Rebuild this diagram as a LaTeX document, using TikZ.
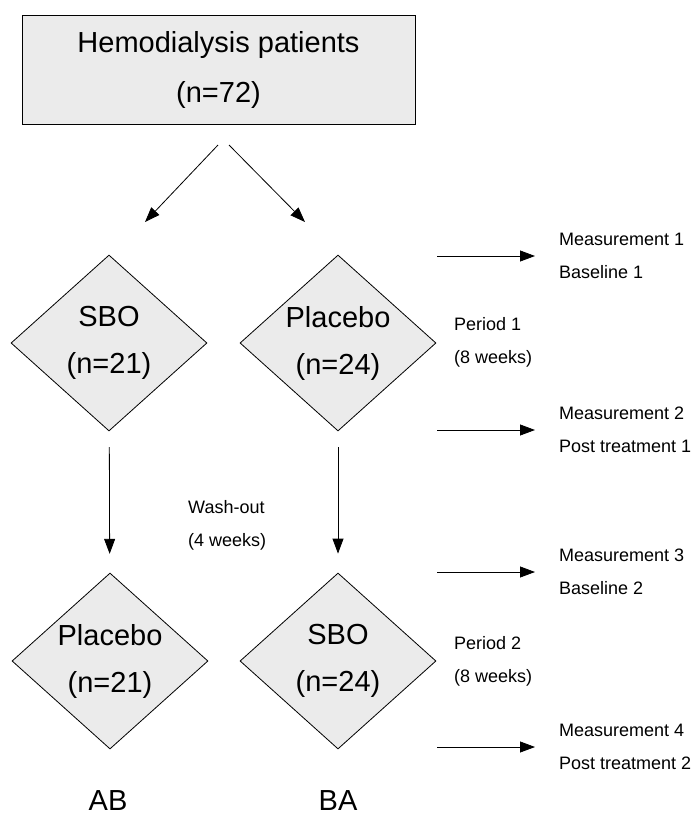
\documentclass[tikz,border=0pt]{standalone}
\usepackage{fontspec}
\setmainfont{Liberation Sans}
\usepackage{tikz}
\usetikzlibrary{shapes.geometric,arrows.meta}
\definecolor{boxgray}{RGB}{235,235,235}

\begin{document}
\begin{tikzpicture}[x=1pt,y=-1pt,
  arm/.style={diamond, draw, fill=boxgray, line width=0.8pt, inner sep=0pt,
    minimum width=196pt, minimum height=176pt, aspect=1.11, align=center,
    font=\fontsize{29}{47}\selectfont},
  sidetext/.style={anchor=west, inner sep=0pt, align=left,
    font=\fontsize{18}{33}\selectfont},
  arr/.style={-{Triangle[length=15pt,width=11pt]}, line width=0.8pt}]

\useasboundingbox (0,0) rectangle (696,817);

\node[draw, fill=boxgray, line width=0.8pt, minimum width=393pt, minimum height=109pt,
  align=center, font=\fontsize{29}{50}\selectfont] (patients) at (218.5,69.5)
  {Hemodialysis patients\\(n=72)};

\node[arm] (sboA) at (109,343) {SBO\\(n=21)};
\node[arm] (plaB) at (338,343) {Placebo\\(n=24)};
\node[arm] (plaA) at (110,661) {Placebo\\(n=21)};
\node[arm] (sboB) at (338,661) {SBO\\(n=24)};

\coordinate (splitL) at (218,145);
\coordinate (splitR) at (229,145);
\coordinate (toL) at (145,222);
\coordinate (toR) at (305,222);
\draw[arr] (splitL) -- (toL);
\draw[arr] (splitR) -- (toR);

\draw[arr, shorten <=16pt, shorten >=19pt] (sboA) -- (plaA);
\draw[arr, shorten <=16pt, shorten >=19pt] (plaB) -- (sboB);

\node[sidetext] (wash) at (188,525) {Wash-out\\(4 weeks)};
\node[sidetext] (period1) at (454,342) {Period 1\\(8 weeks)};
\node[sidetext] (period2) at (454,661) {Period 2\\(8 weeks)};

\node[sidetext] (meas1) at (559,256) {Measurement 1\\Baseline 1};
\node[sidetext] (meas2) at (559,430) {Measurement 2\\Post treatment 1};
\node[sidetext] (meas3) at (559,572) {Measurement 3\\Baseline 2};
\node[sidetext] (meas4) at (559,747) {Measurement 4\\Post treatment 2};

\foreach \m in {1,2,3,4}
  \coordinate (from\m) at ([xshift=-122pt]meas\m.west);
\foreach \m in {1,2,3,4}
  \draw[arr, shorten >=24pt] (from\m) -- (meas\m.west);

\node[font=\fontsize{29}{35}\selectfont] (ab) at (108,801) {AB};
\node[font=\fontsize{29}{35}\selectfont] (ba) at (338,801) {BA};
\end{tikzpicture}
\end{document}
